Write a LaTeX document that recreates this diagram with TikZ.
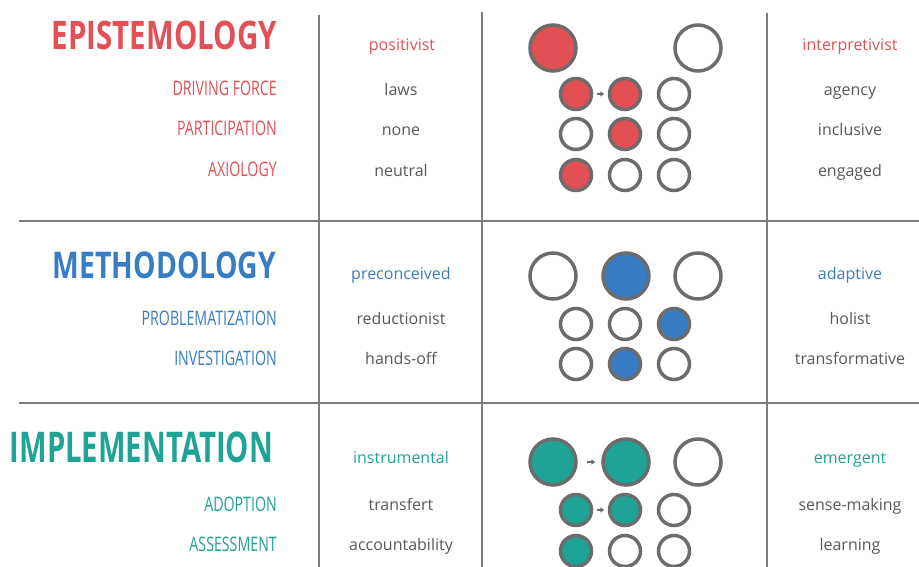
\documentclass[tikz,border=0pt]{standalone}
\usepackage{xcolor}
\usepackage{graphicx}
\usepackage{fontspec}
\setmainfont{Open Sans}
\newfontfamily\condfont[FakeStretch=0.71]{Open Sans}
\usetikzlibrary{positioning,arrows.meta}

\definecolor{epired}{RGB}{226,80,86}
\definecolor{metblue}{RGB}{56,124,196}
\definecolor{impteal}{RGB}{30,163,148}
\definecolor{textgray}{RGB}{88,88,88}
\definecolor{ringgray}{RGB}{108,108,108}
\definecolor{linegray}{RGB}{125,125,125}

% heading set to the width and cap height it has
\newcommand{\headline}[3]{\resizebox{#1}{#2}{#3}}

\begin{document}
\begin{tikzpicture}[x=1pt,y=-1pt,
    title/.style={anchor=base east, inner sep=0pt, font=\condfont\bfseries\fontsize{40}{40}\selectfont},
    sub/.style={anchor=base east, inner sep=0pt, font=\condfont\fontsize{20}{20}\selectfont},
    word/.style={anchor=base, text=textgray, font=\fontsize{16}{16}\selectfont},
    bigc/.style={circle, draw=ringgray, line width=3.5pt, minimum size=46pt, inner sep=0pt},
    dot/.style={circle, draw=ringgray, line width=3.5pt, minimum size=31pt, inner sep=0pt},
    grid/.style={draw=linegray, line width=1.5pt},
    tip/.style={-{Triangle[length=4pt,width=5pt]}, ringgray, line width=1.5pt}]

    \useasboundingbox (0,0) rectangle (919,567);

    % table lines
    \draw[grid] (19,221) -- (919,221);
    \draw[grid] (19,403) -- (919,403);
    \draw[grid] (319,15) -- (319,567);
    \draw[grid] (482,12) -- (482,567);
    \draw[grid] (767,13) -- (767,567);

    % epistemology
    \node[title, text=epired] (epi) at (277,50) {\headline{225pt}{28.5pt}{EPISTEMOLOGY}};
    \node[sub, text=epired] (drive) at (277,95.5) {DRIVING FORCE};
    \node[sub, text=epired] (part) at (277,136) {PARTICIPATION};
    \node[sub, text=epired] (axio) at (277,176.5) {AXIOLOGY};
    \node[word, text=epired] (posi) at (402,50.5) {positivist};
    \node[word] (laws) at (401,95.5) {laws};
    \node[word] (none) at (401,136) {none};
    \node[word] (neut) at (401,176.5) {neutral};
    \node[word, text=epired] (inter) at (850,50.5) {interpretivist};
    \node[word] (agen) at (850,95.5) {agency};
    \node[word] (incl) at (850,136) {inclusive};
    \node[word] (enga) at (850,176.5) {engaged};

    \node[bigc, fill=epired] (eL) at (553,48) {};
    \node[bigc] (eR) at (698,48) {};
    \node[dot, fill=epired] (e11) at (576,94) {};
    \node[dot, fill=epired] (e12) at (625,94) {};
    \node[dot] (e13) at (674,94) {};
    \node[dot] (e21) at (576,134) {};
    \node[dot, fill=epired] (e22) at (625,134) {};
    \node[dot] (e23) at (674,134) {};
    \node[dot, fill=epired] (e31) at (576,175) {};
    \node[dot] (e32) at (625,175) {};
    \node[dot] (e33) at (674,175) {};
    \draw[tip, shorten <=3.5pt, shorten >=3.5pt] (e11) -- (e12);

    % methodology
    \node[title, text=metblue] (meth) at (276,279) {\headline{223pt}{26.7pt}{METHODOLOGY}};
    \node[sub, text=metblue] (prob) at (277,325.7) {PROBLEMATIZATION};
    \node[sub, text=metblue] (inve) at (277,365) {INVESTIGATION};
    \node[word, text=metblue] (prec) at (401,279.3) {preconceived};
    \node[word] (redu) at (401,324) {reductionist};
    \node[word] (hand) at (401,364) {hands-off};
    \node[word, text=metblue] (adap) at (850,279.3) {adaptive};
    \node[word] (holi) at (850,324) {holist};
    \node[word] (tran) at (850,364) {transformative};

    \node[bigc] (mL) at (553,276) {};
    \node[bigc, fill=metblue] (mM) at (626,276) {};
    \node[bigc] (mR) at (698,276) {};
    \node[dot] (m11) at (576,324) {};
    \node[dot] (m12) at (625,324) {};
    \node[dot, fill=metblue] (m13) at (674,324) {};
    \node[dot] (m21) at (576,364) {};
    \node[dot, fill=metblue] (m22) at (625,364) {};
    \node[dot] (m23) at (674,364) {};

    % implementation
    \node[title, text=impteal] (impl) at (273,462.3) {\headline{263pt}{30.7pt}{IMPLEMENTATION}};
    \node[sub, text=impteal] (adop) at (277,511.7) {ADOPTION};
    \node[sub, text=impteal] (asse) at (277,551.7) {ASSESSMENT};
    \node[word, text=impteal] (inst) at (401,463.3) {instrumental};
    \node[word] (trft) at (401,510.7) {transfert};
    \node[word] (acco) at (401,550) {accountability};
    \node[word, text=impteal] (emer) at (850,463.3) {emergent};
    \node[word] (sens) at (850,510.7) {sense-making};
    \node[word] (lear) at (850,550) {learning};

    \node[bigc, fill=impteal] (iL) at (553,462) {};
    \node[bigc, fill=impteal] (iM) at (626,462) {};
    \node[bigc] (iR) at (698,462) {};
    \node[dot, fill=impteal] (i11) at (576,510) {};
    \node[dot, fill=impteal] (i12) at (625,510) {};
    \node[dot] (i13) at (674,510) {};
    \node[dot, fill=impteal] (i21) at (576,551) {};
    \node[dot] (i22) at (625,551) {};
    \node[dot] (i23) at (674,551) {};
    \draw[tip, shorten <=9pt, shorten >=6pt] (iL) -- (iM);
    \draw[tip, shorten <=3.5pt, shorten >=3.5pt] (i11) -- (i12);
\end{tikzpicture}
\end{document}
